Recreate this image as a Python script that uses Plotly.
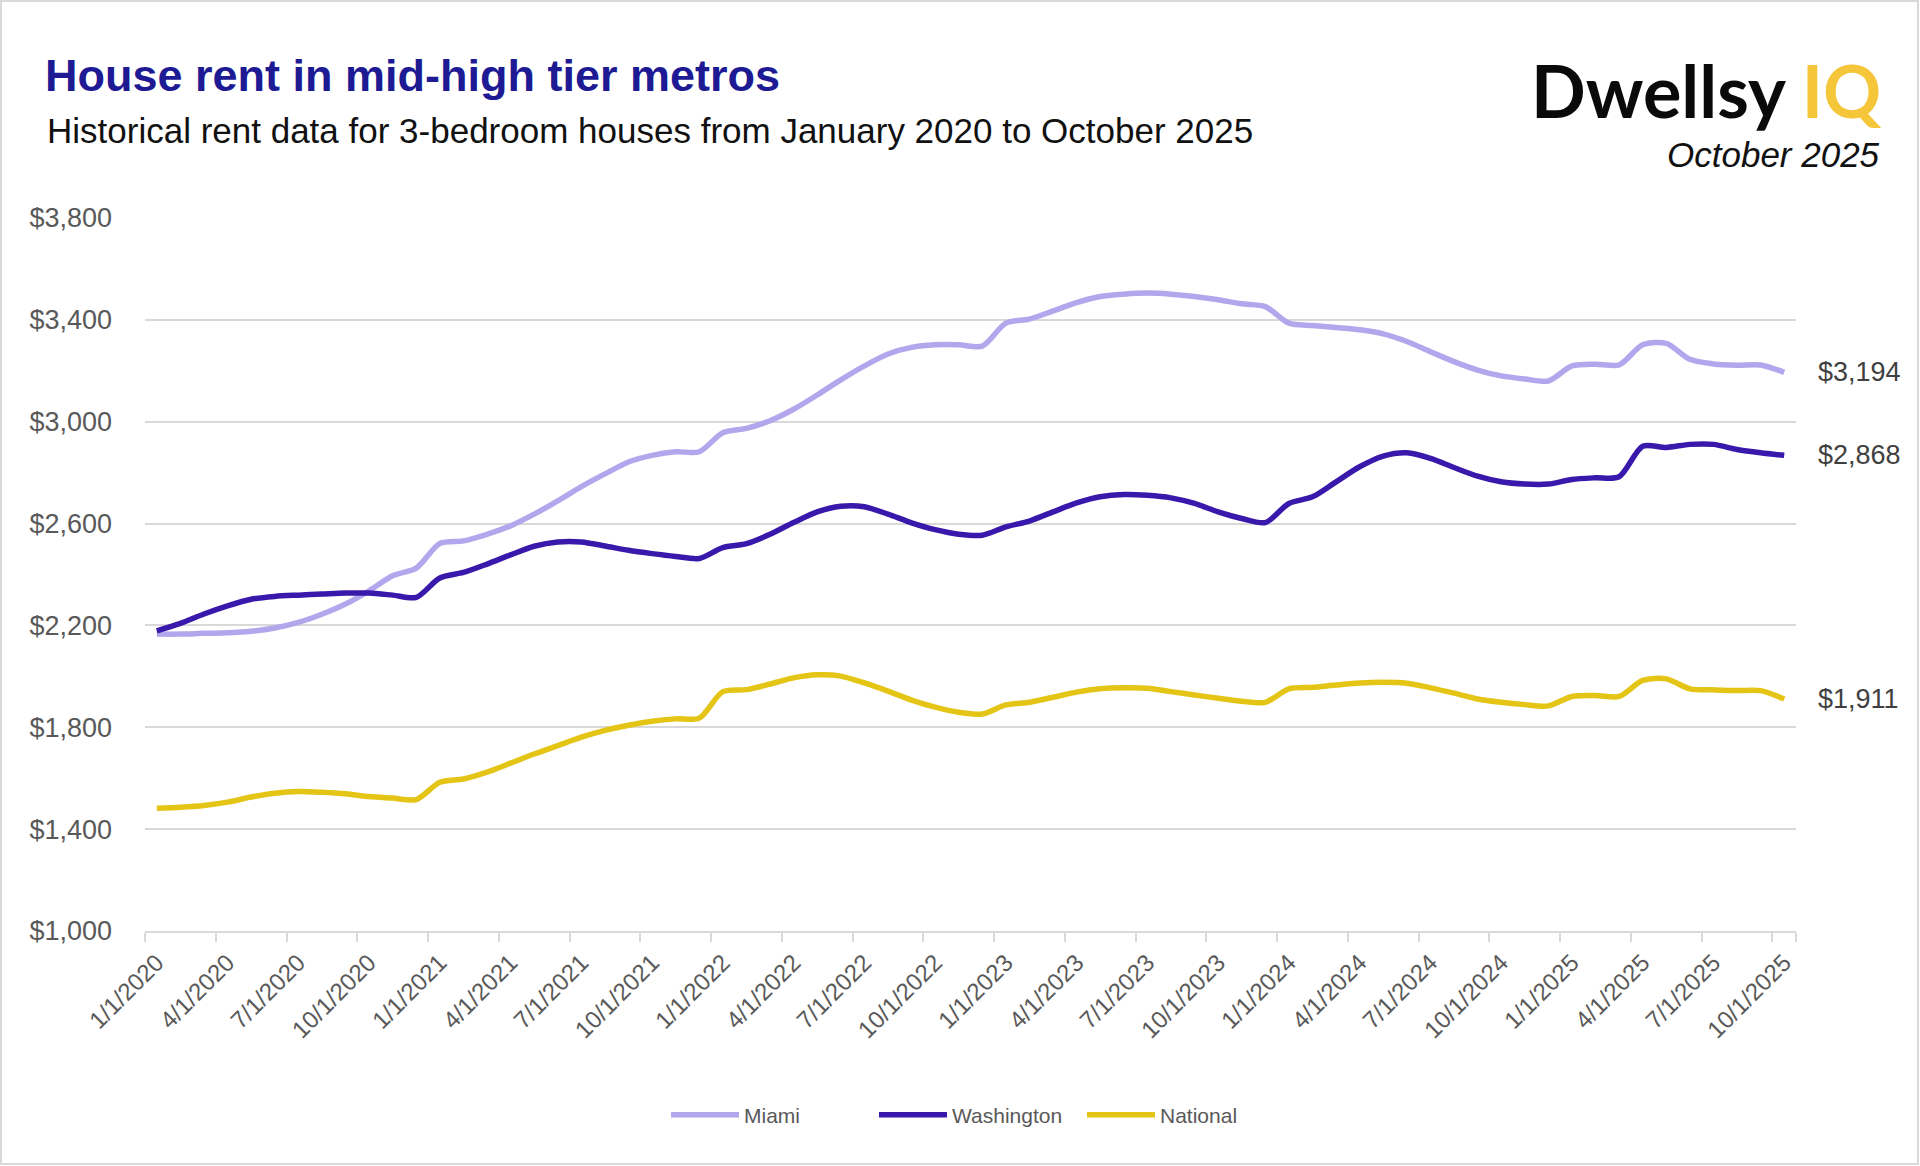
import plotly.graph_objects as go

# ---------------- data ----------------
months = []
for yr in range(2020, 2026):
    for mo in range(1, 13):
        if yr == 2025 and mo > 10:
            break
        months.append(f"{mo}/1/{yr}")

miami = [2166, 2166, 2169, 2171, 2177, 2190, 2212, 2244, 2284, 2336, 2395, 2425,
         2522, 2532, 2558, 2591, 2637, 2689, 2745, 2795, 2842, 2868, 2882, 2882,
         2957, 2974, 3004, 3049, 3105, 3164, 3219, 3266, 3292, 3302, 3302, 3297,
         3387, 3403, 3435, 3468, 3492, 3501, 3505, 3501, 3492, 3479, 3463, 3452,
         3387, 3378, 3370, 3361, 3345, 3315, 3275, 3236, 3203, 3180, 3168, 3160,
         3219, 3226, 3223, 3302, 3308, 3245, 3227, 3222, 3223, 3194]

washington = [2179, 2208, 2245, 2277, 2303, 2314, 2319, 2323, 2327, 2327, 2319, 2310,
              2386, 2408, 2441, 2477, 2511, 2528, 2528, 2512, 2495, 2482, 2471, 2463,
              2506, 2521, 2558, 2604, 2646, 2668, 2666, 2637, 2603, 2576, 2558, 2554,
              2587, 2610, 2646, 2681, 2705, 2714, 2711, 2701, 2679, 2646, 2620, 2604,
              2679, 2705, 2764, 2823, 2865, 2878, 2856, 2820, 2786, 2764, 2755, 2755,
              2773, 2780, 2784, 2904, 2899, 2911, 2911, 2891, 2878, 2868]

national = [1482, 1486, 1493, 1506, 1526, 1541, 1548, 1545, 1539, 1528, 1522, 1516,
            1584, 1597, 1624, 1659, 1695, 1728, 1761, 1788, 1808, 1824, 1833, 1836,
            1940, 1948, 1970, 1994, 2006, 2001, 1974, 1942, 1907, 1879, 1859, 1852,
            1888, 1898, 1918, 1938, 1951, 1955, 1953, 1940, 1927, 1914, 1902, 1898,
            1951, 1957, 1966, 1974, 1977, 1973, 1955, 1934, 1911, 1898, 1889, 1884,
            1921, 1925, 1921, 1984, 1990, 1951, 1947, 1944, 1944, 1911]

series_names = ["Miami", "Washington", "National"]
series_values = [miami, washington, national]
series_colors = ["#B4A6EC", "#3819AB", "#E4C414"]
end_labels = ["$3,194", "$2,868", "$1,911"]

tick_labels = months[::3]
y_ticks = [1000, 1400, 1800, 2200, 2600, 3000, 3400, 3800]
y_tick_text = ["$1,000", "$1,400", "$1,800", "$2,200", "$2,600", "$3,000", "$3,400", "$3,800"]

# ---------------- layout geometry ----------------
W, H = 1920, 1166
ML, MR, MT, MB = 145, 124, 218, 235
PW, PH = W - ML - MR, H - MT - MB


def px(x):
    return (x - ML) / PW


def py(y):
    return (H - MB - y) / PH


FONT = "Liberation Sans, Arial, sans-serif"

fig = go.Figure()
for name, vals, col in zip(series_names, series_values, series_colors):
    fig.add_trace(go.Scatter(
        x=months, y=vals, name=name, mode="lines",
        line=dict(color=col, width=5.5, shape="spline", smoothing=0.8),
        hoverinfo="x+y+name",
    ))

annotations = []
for vals, lab in zip(series_values, end_labels):
    annotations.append(dict(
        x=months[-1], y=vals[-1], xref="x", yref="y", text=lab,
        showarrow=False, xanchor="left", yanchor="middle", xshift=32,
        font=dict(family=FONT, size=27, color="#404040"),
    ))

# subtitle
annotations.append(dict(
    x=px(45), y=py(130), xref="paper", yref="paper",
    text="Historical rent data for 3-bedroom houses from January 2020 to October 2025",
    showarrow=False, xanchor="left", yanchor="middle",
    font=dict(family=FONT, size=35, color="#111111"),
))
# logo
annotations.append(dict(
    x=px(1884), y=py(90), xref="paper", yref="paper",
    text="<b>Dwellsy <span style='color:#F6C63A'>IQ</span></b>",
    showarrow=False, xanchor="right", yanchor="middle",
    font=dict(family="Lato, Inter, sans-serif", size=72, color="#0A0A0A"),
))
annotations.append(dict(
    x=px(1882), y=py(154), xref="paper", yref="paper",
    text="<i>October 2025</i>",
    showarrow=False, xanchor="right", yanchor="middle",
    font=dict(family=FONT, size=35, color="#111111"),
))

shapes = [dict(
    type="rect", xref="paper", yref="paper",
    x0=px(1), x1=px(W - 2), y0=py(H - 2), y1=py(1),
    line=dict(color="#D9D9D9", width=2), fillcolor="rgba(0,0,0,0)", layer="below",
)]

fig.update_layout(
    width=W, height=H,
    margin=dict(l=ML, r=MR, t=MT, b=MB, pad=0),
    paper_bgcolor="white", plot_bgcolor="white",
    title=dict(
        text="<b>House rent in mid-high tier metros</b>",
        x=45 / W, xref="container", xanchor="left",
        y=1 - 75 / H, yref="container", yanchor="middle",
        font=dict(family=FONT, size=45, color="#1D1A94"),
    ),
    xaxis=dict(
        type="category", range=[-0.5, len(months) - 0.5],
        tickmode="array", tickvals=tick_labels, ticktext=tick_labels,
        tickangle=-45, tickson="boundaries",
        ticks="outside", ticklen=9, tickwidth=2, tickcolor="#D9D9D9",
        showline=True, linecolor="#D9D9D9", linewidth=2,
        showgrid=False, zeroline=False,
        tickfont=dict(family=FONT, size=24, color="#595959"),
        ticklabelstandoff=6,
    ),
    yaxis=dict(
        range=[1000, 3800], tickmode="array", tickvals=y_ticks, ticktext=y_tick_text,
        showgrid=True, gridcolor="#D9D9D9", gridwidth=2,
        zeroline=False, showline=False, ticks="",
        tickfont=dict(family=FONT, size=27, color="#595959"),
        ticklabelstandoff=32,
    ),
    legend=dict(
        orientation="h", x=px(978), xanchor="center",
        y=py(1115), yanchor="middle",
        font=dict(family=FONT, size=21, color="#595959"),
        itemwidth=68, entrywidth=125, entrywidthmode="pixels",
        traceorder="normal",
    ),
    annotations=annotations,
    shapes=shapes,
    showlegend=True,
)

fig.write_html(
    "out.html",
    config={"displayModeBar": False},
    post_script="document.body.style.margin='0';document.body.style.overflow='hidden';",
)
